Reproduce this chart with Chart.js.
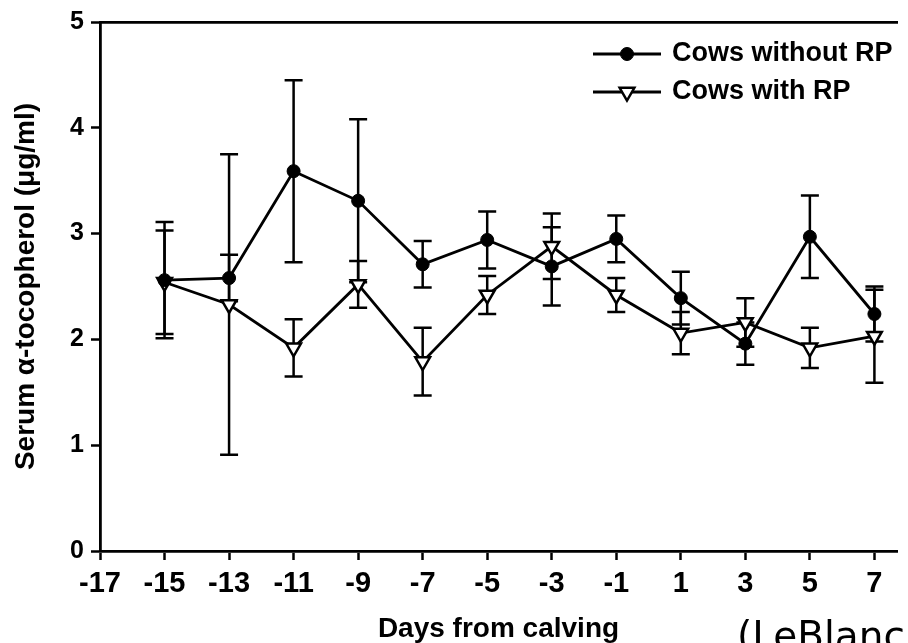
<!DOCTYPE html>
<html>
<head>
<meta charset="utf-8">
<script src="https://cdn.jsdelivr.net/npm/chart.js@4.4.1/dist/chart.umd.min.js"></script>
<style>
  html, body { margin: 0; padding: 0; background: #fff; overflow: hidden; }
  #wrap { position: relative; width: 908px; height: 643px; overflow: hidden; }
  #c { position: absolute; left: 0; top: 0; }
  #src { position: absolute; left: 737px; top: 616px; font-family: 'DejaVu Sans', sans-serif; font-size: 39px; color: #000; white-space: nowrap; line-height: 40px; }
</style>
</head>
<body>
<div id="wrap">
  <canvas id="c" width="908" height="643"></canvas>
  <div id="src">(LeBlanc</div>
</div>
<script>
// ---- data ----
const days = [-15, -13, -11, -9, -7, -5, -3, -1, 1, 3, 5, 7];
const xTickLabels = [-17, -15, -13, -11, -9, -7, -5, -3, -1, 1, 3, 5, 7];
const yTickLabels = [0, 1, 2, 3, 4, 5];
const withoutRP    = [2.56, 2.58, 3.59, 3.31, 2.71, 2.94, 2.69, 2.95, 2.39, 1.96, 2.97, 2.24];
const withoutRPErr = [0.55, 0.22, 0.86, 0.77, 0.22, 0.27, 0.37, 0.22, 0.25, 0.20, 0.39, 0.26];
const withRP       = [2.54, 2.33, 1.92, 2.52, 1.79, 2.42, 2.88, 2.42, 2.06, 2.16, 1.92, 2.03];
const withRPErr    = [0.49, 1.42, 0.27, 0.22, 0.32, 0.18, 0.31, 0.16, 0.20, 0.23, 0.19, 0.44];
const seriesNames  = ['Cows without RP', 'Cows with RP'];

const FONT = "'Liberation Sans', Arial, sans-serif";

function pts(vals) { return days.map((d, i) => ({ x: d, y: vals[i] })); }

const errorBars = {
  id: 'errorBars',
  beforeDatasetsDraw(chart, args, opts) {
    const ctx = chart.ctx, xs = chart.scales.x, ys = chart.scales.y;
    chart.data.datasets.forEach(ds => {
      const errs = ds.errors || [];
      ctx.save();
      ctx.strokeStyle = '#000';
      ctx.lineWidth = opts.lineWidth;
      ds.data.forEach((p, i) => {
        const e = errs[i];
        if (e == null) return;
        const px = xs.getPixelForValue(p.x);
        const top = ys.getPixelForValue(p.y + e);
        const bot = ys.getPixelForValue(p.y - e);
        ctx.beginPath();
        ctx.moveTo(px, top); ctx.lineTo(px, bot);
        ctx.moveTo(px - opts.cap, top); ctx.lineTo(px + opts.cap, top);
        ctx.moveTo(px - opts.cap, bot); ctx.lineTo(px + opts.cap, bot);
        ctx.stroke();
      });
      ctx.restore();
    });
  }
};

const lineLegend = {
  id: 'lineLegend',
  afterDraw(chart, args, opts) {
    const ctx = chart.ctx;
    chart.data.datasets.forEach((ds, i) => {
      const y = opts.y + i * opts.rowGap;
      ctx.save();
      ctx.strokeStyle = ds.borderColor;
      ctx.lineWidth = ds.borderWidth;
      ctx.beginPath();
      ctx.moveTo(opts.x, y); ctx.lineTo(opts.x + opts.lineLen, y);
      ctx.stroke();
      ctx.fillStyle = ds.pointBackgroundColor;
      ctx.strokeStyle = ds.pointBorderColor;
      ctx.lineWidth = ds.pointBorderWidth;
      Chart.helpers.drawPoint(ctx, {
        pointStyle: ds.pointStyle, rotation: ds.pointRotation || 0,
        radius: ds.pointRadius, borderWidth: ds.pointBorderWidth
      }, opts.x + opts.lineLen / 2, y);
      ctx.fillStyle = '#000';
      ctx.font = opts.font;
      ctx.textBaseline = 'middle';
      ctx.textAlign = 'left';
      ctx.fillText(ds.label, opts.x + opts.lineLen + opts.gap, y);
      ctx.restore();
    });
  }
};

new Chart(document.getElementById('c'), {
  type: 'line',
  data: {
    datasets: [
      {
        label: seriesNames[0], data: pts(withoutRP), errors: withoutRPErr,
        borderColor: '#000', borderWidth: 2.8, tension: 0,
        pointStyle: 'circle', pointRadius: 6.5, pointBackgroundColor: '#000',
        pointBorderColor: '#000', pointBorderWidth: 1
      },
      {
        label: seriesNames[1], data: pts(withRP), errors: withRPErr,
        borderColor: '#000', borderWidth: 2.8, tension: 0,
        pointStyle: 'triangle', pointRotation: 180, pointRadius: 8.5,
        pointBackgroundColor: '#fff', pointBorderColor: '#000', pointBorderWidth: 2.5
      }
    ]
  },
  options: {
    responsive: false,
    animation: false,
    devicePixelRatio: 1,
    layout: { padding: { top: 20, right: 0, left: 0, bottom: 0 } },
    plugins: {
      legend: { display: false },
      tooltip: { enabled: false },
      errorBars: { lineWidth: 2.5, cap: 9 },
      lineLegend: { x: 593, y: 54, rowGap: 38, lineLen: 68, gap: 11, font: "bold 27px " + FONT }
    },
    scales: {
      x: {
        type: 'linear', position: 'bottom', min: -17, max: 7.7,
        afterFit: s => { s.height = 92; },
        afterBuildTicks: s => { s.ticks = xTickLabels.map(v => ({ value: v })); },
        grid: { display: true, drawOnChartArea: false, drawTicks: true, tickLength: 9, tickWidth: 2.5, tickColor: '#000' },
        border: { display: true, color: '#000', width: 2.8 },
        ticks: { color: '#000', font: { family: FONT, size: 29, weight: 'bold' }, padding: 7, maxRotation: 0, autoSkip: false },
        title: { display: true, text: 'Days from calving', color: '#000', font: { family: FONT, size: 28, weight: 'bold', lineHeight: 1 }, padding: { top: 17, bottom: 0 } }
      },
      x2: {
        type: 'linear', position: 'top', min: -17, max: 7.7, display: true,
        afterFit: s => { s.height = 0; },
        grid: { display: false },
        ticks: { display: false },
        border: { display: true, color: '#000', width: 2.8 }
      },
      y: {
        type: 'linear', min: 0, max: 5,
        afterFit: s => { s.width = 100; },
        afterBuildTicks: s => { s.ticks = yTickLabels.map(v => ({ value: v })); },
        grid: { display: true, drawOnChartArea: false, drawTicks: true, tickLength: 9, tickWidth: 2.5, tickColor: '#000' },
        border: { display: true, color: '#000', width: 2.8 },
        ticks: { color: '#000', font: { family: FONT, size: 25, weight: 'bold' }, padding: 7 },
        title: { display: true, text: 'Serum α-tocopherol (μg/ml)', color: '#000', font: { family: FONT, size: 28, weight: 'bold', lineHeight: 1 }, padding: { top: 12, bottom: 0 } }
      }
    }
  },
  plugins: [errorBars, lineLegend]
});
</script>
</body>
</html>
